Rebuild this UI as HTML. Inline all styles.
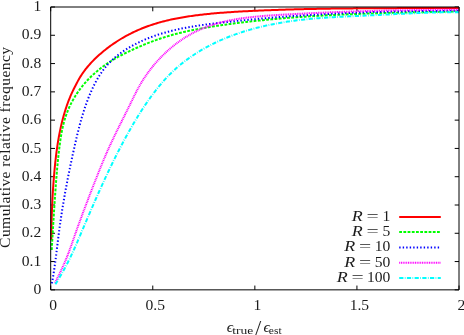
<!DOCTYPE html>
<html><head><meta charset="utf-8"><title>Chart</title>
<style>html,body{margin:0;padding:0;background:#fff;overflow:hidden}svg{display:block;will-change:transform}</style>
</head><body>
<svg width="464" height="335" viewBox="0 0 464 335">
<rect width="464" height="335" fill="#fff"/>
<path d="M50.70 289.85 h4.3 M459.00 289.85 h-4.3 M50.70 261.56 h4.3 M459.00 261.56 h-4.3 M50.70 233.28 h4.3 M459.00 233.28 h-4.3 M50.70 205.00 h4.3 M459.00 205.00 h-4.3 M50.70 176.71 h4.3 M459.00 176.71 h-4.3 M50.70 148.43 h4.3 M459.00 148.43 h-4.3 M50.70 120.14 h4.3 M459.00 120.14 h-4.3 M50.70 91.86 h4.3 M459.00 91.86 h-4.3 M50.70 63.57 h4.3 M459.00 63.57 h-4.3 M50.70 35.28 h4.3 M459.00 35.28 h-4.3 M50.70 7.00 h4.3 M459.00 7.00 h-4.3 M50.70 289.85 v-4.3 M50.70 7.00 v4.3 M152.78 289.85 v-4.3 M152.78 7.00 v4.3 M254.85 289.85 v-4.3 M254.85 7.00 v4.3 M356.93 289.85 v-4.3 M356.93 7.00 v4.3 M459.00 289.85 v-4.3 M459.00 7.00 v4.3" fill="none" stroke="#000" stroke-width="1"/>
<path d="M51.30 239.98 L51.31 238.60 L51.33 237.21 L51.34 235.82 L51.36 234.43 L51.38 233.03 L51.40 231.64 L51.42 230.24 L51.44 228.84 L51.47 227.44 L51.50 226.03 L51.53 224.63 L51.56 223.22 L51.60 221.81 L51.63 220.40 L51.67 218.99 L51.71 217.57 L51.75 216.16 L51.80 214.74 L51.85 213.32 L51.90 211.90 L51.95 210.48 L52.00 209.06 L52.06 207.64 L52.12 206.21 L52.18 204.79 L52.24 203.36 L52.31 201.94 L52.38 200.51 L52.45 199.08 L52.53 197.65 L52.60 196.22 L52.68 194.79 L52.76 193.36 L52.85 191.93 L52.94 190.50 L53.03 189.07 L53.12 187.64 L53.22 186.21 L53.32 184.78 L53.42 183.35 L53.53 181.91 L53.63 180.48 L53.75 179.05 L53.86 177.62 L53.98 176.19 L54.10 174.76 L54.22 173.33 L54.35 171.90 L54.48 170.47 L54.61 169.05 L54.75 167.62 L54.89 166.19 L55.03 164.77 L55.18 163.34 L55.33 161.92 L55.49 160.50 L55.65 159.07 L55.81 157.65 L55.98 156.24 L56.15 154.82 L56.33 153.40 L56.52 151.99 L56.70 150.57 L56.90 149.16 L57.10 147.75 L57.30 146.34 L57.51 144.93 L57.73 143.53 L57.95 142.12 L58.18 140.72 L58.42 139.32 L58.66 137.93 L58.91 136.53 L59.17 135.14 L59.44 133.74 L59.71 132.36 L59.99 130.97 L60.28 129.59 L60.57 128.20 L60.88 126.82 L61.19 125.45 L61.51 124.07 L61.84 122.70 L62.18 121.33 L62.52 119.97 L62.88 118.61 L63.24 117.25 L63.62 115.89 L64.00 114.54 L64.40 113.19 L64.80 111.84 L65.22 110.50 L65.64 109.15 L66.08 107.82 L66.53 106.48 L66.98 105.15 L67.45 103.83 L67.93 102.51 L68.43 101.19 L68.93 99.87 L69.45 98.56 L69.98 97.26 L70.53 95.96 L71.09 94.67 L71.67 93.38 L72.26 92.10 L72.87 90.82 L73.50 89.55 L74.14 88.29 L74.79 87.04 L75.44 85.79 L76.08 84.55 L76.71 83.32 L77.32 82.09 L77.95 80.88 L78.61 79.67 L79.30 78.47 L80.01 77.28 L80.74 76.10 L81.50 74.93 L82.28 73.77 L83.08 72.62 L83.91 71.47 L84.75 70.34 L85.62 69.22 L86.51 68.10 L87.41 67.00 L88.33 65.91 L89.28 64.83 L90.24 63.75 L91.21 62.69 L92.20 61.64 L93.21 60.60 L94.23 59.57 L95.27 58.56 L96.32 57.55 L97.38 56.56 L98.45 55.57 L99.54 54.60 L100.63 53.64 L101.74 52.69 L102.86 51.76 L103.98 50.84 L105.11 49.92 L106.25 49.03 L107.40 48.14 L108.56 47.27 L109.72 46.41 L110.88 45.56 L112.05 44.73 L113.23 43.91 L114.41 43.10 L115.60 42.31 L116.79 41.52 L117.99 40.75 L119.20 40.00 L120.41 39.26 L121.62 38.52 L122.84 37.81 L124.07 37.10 L125.30 36.41 L126.53 35.73 L127.77 35.06 L129.02 34.41 L130.27 33.77 L131.52 33.14 L132.78 32.52 L134.05 31.91 L135.31 31.32 L136.59 30.74 L137.86 30.17 L139.15 29.61 L140.43 29.07 L141.72 28.54 L143.02 28.01 L144.32 27.50 L145.62 27.01 L146.93 26.52 L148.24 26.04 L149.55 25.58 L150.87 25.13 L152.19 24.69 L153.52 24.26 L154.85 23.84 L156.18 23.43 L157.52 23.03 L158.86 22.64 L160.20 22.27 L161.55 21.90 L162.90 21.54 L164.25 21.19 L165.61 20.86 L166.97 20.53 L168.33 20.21 L169.69 19.89 L171.06 19.59 L172.43 19.30 L173.81 19.01 L175.19 18.73 L176.57 18.46 L177.95 18.20 L179.33 17.94 L180.72 17.69 L182.11 17.45 L183.50 17.21 L184.90 16.98 L186.29 16.76 L187.69 16.54 L189.09 16.33 L190.49 16.13 L191.90 15.93 L193.31 15.73 L194.72 15.54 L196.13 15.36 L197.54 15.18 L198.95 15.00 L200.37 14.83 L201.79 14.67 L203.20 14.50 L204.62 14.34 L206.05 14.19 L207.47 14.04 L208.89 13.90 L210.32 13.75 L211.75 13.62 L213.17 13.48 L214.60 13.35 L216.03 13.22 L217.46 13.10 L218.89 12.98 L220.33 12.86 L221.76 12.75 L223.19 12.64 L224.63 12.53 L226.06 12.43 L227.50 12.33 L228.93 12.23 L230.37 12.13 L231.81 12.04 L233.24 11.94 L234.68 11.85 L236.12 11.77 L237.55 11.68 L238.99 11.60 L240.43 11.52 L241.86 11.44 L243.30 11.36 L244.74 11.29 L246.17 11.22 L247.61 11.14 L249.04 11.07 L250.48 11.00 L251.91 10.94 L253.34 10.87 L254.78 10.80 L256.21 10.74 L257.64 10.68 L259.07 10.61 L260.50 10.55 L261.93 10.49 L263.36 10.43 L264.79 10.37 L266.22 10.32 L267.64 10.26 L269.07 10.21 L270.50 10.15 L271.92 10.10 L273.35 10.05 L274.77 9.99 L276.20 9.94 L277.62 9.89 L279.04 9.85 L280.46 9.80 L281.89 9.75 L283.31 9.71 L284.73 9.66 L286.15 9.62 L287.57 9.57 L288.99 9.53 L290.41 9.49 L291.83 9.45 L293.25 9.41 L294.66 9.37 L296.08 9.33 L297.50 9.30 L298.92 9.26 L300.33 9.23 L301.75 9.19 L303.16 9.16 L304.58 9.12 L305.99 9.09 L307.41 9.06 L308.82 9.03 L310.24 9.00 L311.65 8.97 L313.07 8.94 L314.48 8.91 L315.89 8.88 L317.31 8.86 L318.72 8.83 L320.13 8.81 L321.54 8.78 L322.95 8.76 L324.37 8.73 L325.78 8.71 L327.19 8.69 L328.60 8.67 L330.01 8.64 L331.42 8.62 L332.83 8.60 L334.24 8.58 L335.66 8.56 L337.07 8.55 L338.48 8.53 L339.89 8.51 L341.30 8.49 L342.71 8.48 L344.12 8.46 L345.53 8.45 L346.94 8.43 L348.35 8.42 L349.76 8.40 L351.17 8.39 L352.58 8.38 L353.99 8.36 L355.40 8.35 L356.81 8.34 L358.22 8.33 L359.63 8.32 L361.04 8.31 L362.45 8.29 L363.86 8.28 L365.27 8.27 L366.68 8.27 L368.09 8.26 L369.50 8.25 L370.91 8.24 L372.32 8.23 L373.73 8.22 L375.14 8.22 L376.55 8.21 L377.97 8.20 L379.38 8.19 L380.79 8.19 L382.20 8.18 L383.61 8.17 L385.03 8.17 L386.44 8.16 L387.85 8.16 L389.26 8.15 L390.68 8.15 L392.09 8.14 L393.51 8.14 L394.92 8.13 L396.33 8.13 L397.75 8.12 L399.16 8.12 L400.58 8.11 L402.00 8.11 L403.41 8.10 L404.83 8.10 L406.25 8.10 L407.66 8.09 L409.08 8.09 L410.50 8.08 L411.92 8.08 L413.34 8.08 L414.76 8.07 L416.17 8.07 L417.59 8.06 L419.02 8.06 L420.44 8.06 L421.86 8.05 L423.28 8.05 L424.70 8.04 L426.13 8.04 L427.55 8.04 L428.97 8.03 L430.40 8.03 L431.82 8.02 L433.25 8.02 L434.67 8.01 L436.10 8.01 L437.53 8.00 L438.96 8.00 L440.38 7.99 L441.81 7.99 L443.24 7.98 L444.67 7.97 L446.10 7.97 L447.54 7.96 L448.97 7.95 L450.40 7.95 L451.84 7.94 L453.27 7.93 L454.70 7.92 L456.14 7.92 L457.58 7.91 L459.01 7.90" fill="none" stroke="#ff0000" stroke-width="2.00"/>
<path d="M399.2 216.90 H440.8" fill="none" stroke="#ff0000" stroke-width="2.00"/>
<path d="M51.70 250.00 L51.79 248.57 L51.87 247.14 L51.95 245.71 L52.04 244.29 L52.12 242.86 L52.20 241.44 L52.28 240.03 L52.37 238.61 L52.45 237.20 L52.53 235.79 L52.62 234.38 L52.70 232.97 L52.78 231.56 L52.87 230.16 L52.95 228.76 L53.03 227.36 L53.12 225.96 L53.20 224.56 L53.29 223.16 L53.37 221.76 L53.46 220.37 L53.55 218.97 L53.63 217.58 L53.72 216.18 L53.81 214.79 L53.89 213.39 L53.98 212.00 L54.07 210.60 L54.16 209.21 L54.25 207.82 L54.34 206.42 L54.44 205.03 L54.53 203.63 L54.62 202.23 L54.71 200.84 L54.81 199.44 L54.90 198.04 L55.00 196.64 L55.10 195.24 L55.20 193.83 L55.29 192.43 L55.39 191.02 L55.50 189.61 L55.60 188.20 L55.70 186.79 L55.80 185.38 L55.91 183.96 L56.02 182.55 L56.12 181.13 L56.23 179.71 L56.34 178.29 L56.46 176.87 L56.57 175.45 L56.69 174.03 L56.81 172.61 L56.93 171.18 L57.05 169.76 L57.18 168.34 L57.31 166.92 L57.44 165.49 L57.57 164.07 L57.71 162.65 L57.85 161.23 L57.99 159.81 L58.14 158.39 L58.29 156.97 L58.44 155.55 L58.59 154.13 L58.75 152.72 L58.92 151.31 L59.08 149.90 L59.25 148.49 L59.43 147.08 L59.61 145.67 L59.79 144.27 L59.98 142.87 L60.17 141.47 L60.37 140.07 L60.58 138.68 L60.80 137.29 L61.03 135.90 L61.26 134.52 L61.51 133.13 L61.76 131.76 L62.03 130.38 L62.32 129.01 L62.61 127.65 L62.92 126.28 L63.24 124.92 L63.58 123.57 L63.94 122.22 L64.31 120.87 L64.70 119.53 L65.11 118.20 L65.53 116.86 L65.98 115.54 L66.45 114.22 L66.94 112.90 L67.44 111.59 L67.97 110.29 L68.52 108.99 L69.09 107.70 L69.68 106.42 L70.28 105.14 L70.91 103.87 L71.55 102.61 L72.21 101.36 L72.89 100.12 L73.59 98.89 L74.30 97.67 L75.04 96.46 L75.78 95.26 L76.55 94.08 L77.33 92.90 L78.13 91.74 L78.95 90.58 L79.78 89.44 L80.62 88.32 L81.48 87.21 L82.36 86.11 L83.25 85.02 L84.15 83.95 L85.07 82.89 L86.01 81.84 L86.95 80.80 L87.91 79.78 L88.89 78.77 L89.87 77.78 L90.87 76.79 L91.88 75.82 L92.91 74.86 L93.94 73.91 L94.99 72.98 L96.05 72.06 L97.12 71.15 L98.20 70.25 L99.29 69.36 L100.39 68.49 L101.50 67.62 L102.62 66.77 L103.75 65.94 L104.89 65.11 L106.04 64.31 L107.20 63.51 L108.36 62.73 L109.54 61.97 L110.72 61.22 L111.91 60.48 L113.11 59.76 L114.31 59.05 L115.52 58.35 L116.74 57.67 L117.96 56.99 L119.19 56.33 L120.42 55.67 L121.66 55.02 L122.90 54.38 L124.15 53.75 L125.41 53.12 L126.66 52.50 L127.92 51.89 L129.19 51.28 L130.46 50.68 L131.73 50.08 L133.01 49.49 L134.29 48.90 L135.57 48.32 L136.85 47.75 L138.14 47.18 L139.43 46.61 L140.73 46.06 L142.03 45.51 L143.33 44.96 L144.63 44.43 L145.94 43.90 L147.25 43.37 L148.57 42.86 L149.88 42.35 L151.20 41.84 L152.52 41.35 L153.85 40.86 L155.17 40.38 L156.50 39.90 L157.84 39.44 L159.17 38.98 L160.51 38.53 L161.85 38.08 L163.19 37.65 L164.54 37.22 L165.88 36.80 L167.23 36.39 L168.58 35.99 L169.93 35.59 L171.29 35.20 L172.65 34.82 L174.01 34.45 L175.37 34.09 L176.73 33.73 L178.10 33.38 L179.46 33.04 L180.83 32.70 L182.20 32.37 L183.57 32.05 L184.95 31.73 L186.32 31.42 L187.70 31.11 L189.08 30.82 L190.45 30.52 L191.84 30.24 L193.22 29.95 L194.60 29.68 L195.99 29.41 L197.37 29.14 L198.76 28.88 L200.15 28.62 L201.53 28.37 L202.92 28.12 L204.31 27.88 L205.71 27.64 L207.10 27.41 L208.49 27.18 L209.89 26.95 L211.28 26.73 L212.68 26.51 L214.07 26.29 L215.47 26.08 L216.86 25.87 L218.26 25.66 L219.66 25.45 L221.06 25.25 L222.46 25.05 L223.86 24.85 L225.25 24.66 L226.65 24.46 L228.05 24.27 L229.45 24.08 L230.85 23.90 L232.25 23.71 L233.65 23.53 L235.05 23.35 L236.45 23.17 L237.85 22.99 L239.25 22.82 L240.65 22.65 L242.06 22.48 L243.46 22.31 L244.86 22.14 L246.26 21.98 L247.66 21.81 L249.06 21.65 L250.47 21.49 L251.87 21.34 L253.27 21.18 L254.67 21.03 L256.08 20.88 L257.48 20.73 L258.88 20.58 L260.29 20.43 L261.69 20.29 L263.09 20.14 L264.50 20.00 L265.90 19.87 L267.31 19.73 L268.71 19.59 L270.11 19.46 L271.52 19.33 L272.92 19.20 L274.33 19.07 L275.73 18.94 L277.14 18.81 L278.54 18.69 L279.95 18.57 L281.36 18.45 L282.76 18.33 L284.17 18.21 L285.57 18.10 L286.98 17.98 L288.39 17.87 L289.79 17.76 L291.20 17.65 L292.61 17.54 L294.01 17.43 L295.42 17.33 L296.83 17.22 L298.23 17.12 L299.64 17.02 L301.05 16.92 L302.46 16.82 L303.86 16.73 L305.27 16.63 L306.68 16.54 L308.09 16.44 L309.49 16.35 L310.90 16.26 L312.31 16.17 L313.72 16.09 L315.13 16.00 L316.54 15.92 L317.95 15.83 L319.35 15.75 L320.76 15.67 L322.17 15.59 L323.58 15.51 L324.99 15.43 L326.40 15.36 L327.81 15.28 L329.22 15.21 L330.63 15.13 L332.04 15.06 L333.45 14.99 L334.86 14.92 L336.27 14.85 L337.67 14.79 L339.08 14.72 L340.49 14.65 L341.90 14.59 L343.31 14.53 L344.72 14.46 L346.13 14.40 L347.55 14.34 L348.96 14.28 L350.37 14.22 L351.78 14.17 L353.19 14.11 L354.60 14.05 L356.01 14.00 L357.42 13.95 L358.83 13.89 L360.24 13.84 L361.65 13.79 L363.06 13.74 L364.47 13.69 L365.88 13.64 L367.29 13.59 L368.70 13.54 L370.12 13.50 L371.53 13.45 L372.94 13.41 L374.35 13.36 L375.76 13.32 L377.17 13.28 L378.58 13.23 L379.99 13.19 L381.40 13.15 L382.81 13.11 L384.23 13.07 L385.64 13.03 L387.05 12.99 L388.46 12.95 L389.87 12.92 L391.28 12.88 L392.69 12.84 L394.10 12.81 L395.52 12.77 L396.93 12.74 L398.34 12.70 L399.75 12.67 L401.16 12.64 L402.57 12.60 L403.98 12.57 L405.39 12.54 L406.81 12.51 L408.22 12.47 L409.63 12.44 L411.04 12.41 L412.45 12.38 L413.86 12.35 L415.27 12.32 L416.68 12.29 L418.10 12.26 L419.51 12.24 L420.92 12.21 L422.33 12.18 L423.74 12.15 L425.15 12.12 L426.56 12.10 L427.97 12.07 L429.38 12.04 L430.79 12.01 L432.20 11.99 L433.62 11.96 L435.03 11.94 L436.44 11.91 L437.85 11.88 L439.26 11.86 L440.67 11.83 L442.08 11.80 L443.49 11.78 L444.90 11.75 L446.31 11.73 L447.72 11.70 L449.13 11.67 L450.54 11.65 L451.95 11.62 L453.36 11.60 L454.77 11.57 L456.18 11.54 L457.59 11.52 L459.00 11.49" fill="none" stroke="#00ff00" stroke-width="2.00" stroke-dasharray="2.80,1.40"/>
<path d="M399.2 232.10 H440.8" fill="none" stroke="#00ff00" stroke-width="2.00" stroke-dasharray="2.80,1.40"/>
<path d="M51.91 283.40 L52.17 281.95 L52.43 280.50 L52.69 279.05 L52.94 277.59 L53.18 276.13 L53.41 274.68 L53.64 273.22 L53.87 271.75 L54.09 270.29 L54.30 268.83 L54.52 267.36 L54.72 265.89 L54.93 264.43 L55.13 262.96 L55.32 261.49 L55.52 260.02 L55.71 258.55 L55.90 257.08 L56.08 255.60 L56.27 254.13 L56.45 252.66 L56.63 251.18 L56.81 249.71 L56.99 248.24 L57.17 246.77 L57.35 245.29 L57.53 243.82 L57.71 242.35 L57.89 240.87 L58.07 239.40 L58.25 237.93 L58.44 236.46 L58.62 234.99 L58.81 233.52 L59.00 232.05 L59.19 230.59 L59.39 229.12 L59.58 227.66 L59.79 226.19 L59.99 224.73 L60.19 223.27 L60.40 221.81 L60.62 220.35 L60.83 218.89 L61.05 217.43 L61.27 215.97 L61.49 214.52 L61.71 213.06 L61.94 211.60 L62.17 210.15 L62.40 208.70 L62.64 207.24 L62.87 205.79 L63.11 204.34 L63.36 202.89 L63.60 201.44 L63.85 199.99 L64.10 198.54 L64.35 197.09 L64.61 195.64 L64.86 194.19 L65.12 192.74 L65.38 191.29 L65.65 189.85 L65.91 188.40 L66.18 186.95 L66.45 185.51 L66.73 184.06 L67.00 182.62 L67.28 181.17 L67.56 179.72 L67.84 178.28 L68.12 176.83 L68.41 175.39 L68.70 173.94 L68.99 172.50 L69.28 171.05 L69.57 169.61 L69.87 168.16 L70.17 166.72 L70.47 165.27 L70.77 163.83 L71.08 162.38 L71.38 160.93 L71.69 159.49 L72.00 158.04 L72.31 156.60 L72.63 155.15 L72.94 153.70 L73.26 152.25 L73.58 150.81 L73.90 149.36 L74.23 147.91 L74.55 146.46 L74.88 145.01 L75.21 143.56 L75.54 142.11 L75.87 140.66 L76.21 139.21 L76.55 137.76 L76.89 136.31 L77.24 134.86 L77.59 133.42 L77.95 131.97 L78.31 130.52 L78.67 129.08 L79.04 127.64 L79.42 126.19 L79.80 124.75 L80.19 123.32 L80.58 121.88 L80.98 120.45 L81.38 119.01 L81.80 117.58 L82.22 116.16 L82.64 114.73 L83.08 113.31 L83.52 111.89 L83.97 110.47 L84.43 109.06 L84.90 107.65 L85.38 106.24 L85.86 104.84 L86.36 103.44 L86.87 102.05 L87.38 100.66 L87.91 99.27 L88.44 97.89 L88.99 96.51 L89.55 95.14 L90.12 93.77 L90.70 92.41 L91.30 91.05 L91.90 89.70 L92.52 88.35 L93.15 87.01 L93.80 85.68 L94.46 84.36 L95.14 83.05 L95.83 81.75 L96.54 80.46 L97.26 79.18 L98.00 77.91 L98.76 76.65 L99.53 75.41 L100.33 74.18 L101.14 72.97 L101.97 71.77 L102.83 70.58 L103.70 69.41 L104.59 68.26 L105.50 67.12 L106.44 66.01 L107.40 64.91 L108.38 63.83 L109.38 62.77 L110.41 61.73 L111.45 60.71 L112.52 59.70 L113.61 58.72 L114.71 57.76 L115.84 56.81 L116.98 55.88 L118.13 54.97 L119.30 54.08 L120.49 53.21 L121.69 52.35 L122.90 51.51 L124.12 50.69 L125.35 49.88 L126.59 49.09 L127.84 48.32 L129.10 47.57 L130.37 46.82 L131.64 46.10 L132.92 45.39 L134.21 44.70 L135.50 44.02 L136.80 43.35 L138.11 42.70 L139.42 42.07 L140.75 41.45 L142.07 40.84 L143.40 40.25 L144.74 39.67 L146.09 39.10 L147.44 38.55 L148.80 38.00 L150.16 37.48 L151.53 36.96 L152.90 36.46 L154.28 35.97 L155.66 35.49 L157.05 35.02 L158.44 34.56 L159.84 34.12 L161.24 33.68 L162.65 33.26 L164.06 32.85 L165.48 32.45 L166.90 32.05 L168.32 31.67 L169.75 31.30 L171.18 30.93 L172.62 30.58 L174.06 30.23 L175.50 29.90 L176.94 29.57 L178.39 29.25 L179.84 28.94 L181.30 28.63 L182.76 28.34 L184.22 28.05 L185.68 27.77 L187.15 27.49 L188.62 27.23 L190.09 26.97 L191.56 26.71 L193.03 26.46 L194.51 26.22 L195.99 25.99 L197.47 25.76 L198.95 25.53 L200.43 25.31 L201.92 25.10 L203.40 24.88 L204.89 24.68 L206.38 24.48 L207.86 24.28 L209.35 24.09 L210.84 23.89 L212.33 23.71 L213.82 23.52 L215.31 23.34 L216.80 23.17 L218.29 22.99 L219.79 22.82 L221.28 22.65 L222.77 22.48 L224.26 22.31 L225.74 22.14 L227.23 21.98 L228.72 21.82 L230.21 21.65 L231.69 21.49 L233.18 21.34 L234.67 21.18 L236.15 21.02 L237.64 20.87 L239.12 20.72 L240.60 20.56 L242.09 20.41 L243.57 20.27 L245.05 20.12 L246.53 19.97 L248.02 19.83 L249.50 19.69 L250.98 19.55 L252.46 19.41 L253.94 19.27 L255.42 19.13 L256.90 18.99 L258.37 18.86 L259.85 18.73 L261.33 18.59 L262.81 18.46 L264.28 18.34 L265.76 18.21 L267.24 18.08 L268.71 17.96 L270.19 17.83 L271.66 17.71 L273.14 17.59 L274.61 17.47 L276.09 17.35 L277.56 17.23 L279.04 17.12 L280.51 17.00 L281.98 16.89 L283.46 16.78 L284.93 16.67 L286.40 16.56 L287.87 16.45 L289.34 16.34 L290.82 16.24 L292.29 16.13 L293.76 16.03 L295.23 15.93 L296.70 15.83 L298.17 15.73 L299.64 15.63 L301.11 15.53 L302.58 15.43 L304.05 15.34 L305.52 15.25 L306.99 15.15 L308.46 15.06 L309.93 14.97 L311.40 14.88 L312.87 14.79 L314.34 14.71 L315.81 14.62 L317.28 14.54 L318.74 14.45 L320.21 14.37 L321.68 14.29 L323.15 14.21 L324.62 14.13 L326.09 14.05 L327.56 13.98 L329.02 13.90 L330.49 13.83 L331.96 13.75 L333.43 13.68 L334.90 13.61 L336.37 13.54 L337.83 13.47 L339.30 13.40 L340.77 13.34 L342.24 13.27 L343.71 13.21 L345.18 13.14 L346.64 13.08 L348.11 13.02 L349.58 12.96 L351.05 12.90 L352.52 12.84 L353.99 12.78 L355.46 12.72 L356.93 12.66 L358.40 12.61 L359.87 12.56 L361.34 12.50 L362.81 12.45 L364.27 12.40 L365.74 12.35 L367.22 12.30 L368.69 12.25 L370.16 12.20 L371.63 12.16 L373.10 12.11 L374.57 12.07 L376.04 12.02 L377.51 11.98 L378.98 11.94 L380.46 11.90 L381.93 11.85 L383.40 11.82 L384.87 11.78 L386.35 11.74 L387.82 11.70 L389.29 11.67 L390.77 11.63 L392.24 11.60 L393.72 11.56 L395.19 11.53 L396.67 11.50 L398.14 11.47 L399.62 11.44 L401.09 11.41 L402.57 11.38 L404.05 11.35 L405.53 11.32 L407.00 11.30 L408.48 11.27 L409.96 11.24 L411.44 11.22 L412.92 11.20 L414.40 11.17 L415.88 11.15 L417.36 11.13 L418.84 11.11 L420.32 11.09 L421.80 11.07 L423.28 11.05 L424.77 11.04 L426.25 11.02 L427.73 11.00 L429.22 10.99 L430.70 10.97 L432.19 10.96 L433.67 10.94 L435.16 10.93 L436.65 10.92 L438.13 10.91 L439.62 10.90 L441.11 10.89 L442.60 10.88 L444.09 10.87 L445.58 10.86 L447.07 10.85 L448.56 10.84 L450.05 10.84 L451.54 10.83 L453.04 10.82 L454.53 10.82 L456.02 10.82 L457.52 10.81 L459.02 10.81" fill="none" stroke="#0000ff" stroke-width="2.00" stroke-dasharray="1.40,2.10"/>
<path d="M399.2 247.40 H440.8" fill="none" stroke="#0000ff" stroke-width="2.00" stroke-dasharray="1.40,2.10"/>
<path d="M54.99 282.80 L55.64 281.55 L56.28 280.30 L56.91 279.04 L57.54 277.78 L58.17 276.51 L58.79 275.25 L59.40 273.98 L60.01 272.71 L60.62 271.43 L61.22 270.16 L61.81 268.88 L62.40 267.60 L62.98 266.32 L63.55 265.03 L64.11 263.75 L64.67 262.46 L65.22 261.17 L65.76 259.88 L66.29 258.58 L66.82 257.29 L67.33 255.99 L67.84 254.69 L68.34 253.39 L68.84 252.09 L69.33 250.79 L69.81 249.48 L70.28 248.18 L70.76 246.87 L71.22 245.56 L71.69 244.25 L72.15 242.94 L72.61 241.63 L73.07 240.32 L73.53 239.00 L73.98 237.69 L74.44 236.38 L74.90 235.06 L75.36 233.74 L75.82 232.43 L76.28 231.11 L76.74 229.79 L77.21 228.47 L77.68 227.15 L78.16 225.84 L78.63 224.52 L79.11 223.20 L79.59 221.88 L80.07 220.56 L80.56 219.24 L81.05 217.92 L81.53 216.60 L82.03 215.28 L82.52 213.96 L83.01 212.64 L83.51 211.32 L84.00 210.01 L84.50 208.69 L85.00 207.37 L85.50 206.06 L86.00 204.74 L86.50 203.42 L87.00 202.11 L87.51 200.80 L88.01 199.48 L88.51 198.17 L89.02 196.86 L89.52 195.55 L90.03 194.24 L90.53 192.94 L91.04 191.63 L91.54 190.32 L92.04 189.02 L92.55 187.72 L93.05 186.42 L93.56 185.12 L94.06 183.82 L94.56 182.52 L95.07 181.22 L95.57 179.93 L96.08 178.63 L96.59 177.34 L97.09 176.05 L97.60 174.76 L98.11 173.47 L98.63 172.18 L99.14 170.89 L99.66 169.60 L100.18 168.31 L100.70 167.02 L101.23 165.73 L101.75 164.45 L102.28 163.16 L102.82 161.87 L103.35 160.58 L103.89 159.30 L104.44 158.01 L104.99 156.73 L105.54 155.44 L106.09 154.15 L106.65 152.86 L107.22 151.58 L107.79 150.29 L108.36 149.00 L108.94 147.71 L109.53 146.42 L110.12 145.14 L110.72 143.85 L111.32 142.56 L111.92 141.27 L112.53 139.98 L113.14 138.69 L113.76 137.40 L114.38 136.11 L115.00 134.82 L115.63 133.53 L116.26 132.24 L116.89 130.95 L117.52 129.67 L118.15 128.38 L118.79 127.09 L119.43 125.81 L120.06 124.53 L120.70 123.25 L121.34 121.97 L121.98 120.69 L122.61 119.41 L123.25 118.14 L123.89 116.86 L124.52 115.59 L125.16 114.32 L125.79 113.05 L126.42 111.79 L127.05 110.52 L127.67 109.26 L128.30 108.01 L128.91 106.75 L129.53 105.50 L130.14 104.25 L130.75 103.00 L131.36 101.76 L131.96 100.52 L132.57 99.28 L133.17 98.04 L133.78 96.81 L134.38 95.59 L135.00 94.36 L135.61 93.14 L136.23 91.93 L136.86 90.71 L137.50 89.51 L138.14 88.30 L138.80 87.10 L139.46 85.91 L140.14 84.72 L140.83 83.53 L141.54 82.35 L142.26 81.17 L142.99 80.00 L143.73 78.83 L144.49 77.67 L145.26 76.52 L146.05 75.37 L146.84 74.23 L147.65 73.09 L148.47 71.96 L149.31 70.84 L150.16 69.72 L151.01 68.61 L151.89 67.51 L152.77 66.42 L153.66 65.33 L154.57 64.25 L155.49 63.18 L156.42 62.12 L157.36 61.07 L158.31 60.03 L159.27 58.99 L160.24 57.97 L161.22 56.95 L162.22 55.94 L163.22 54.95 L164.24 53.96 L165.26 52.99 L166.30 52.02 L167.34 51.07 L168.39 50.13 L169.46 49.19 L170.53 48.27 L171.61 47.37 L172.70 46.47 L173.80 45.58 L174.91 44.71 L176.03 43.85 L177.15 43.00 L178.29 42.17 L179.43 41.35 L180.58 40.54 L181.74 39.75 L182.91 38.97 L184.08 38.20 L185.26 37.45 L186.45 36.71 L187.65 35.99 L188.85 35.28 L190.06 34.58 L191.28 33.91 L192.51 33.24 L193.74 32.60 L194.98 31.97 L196.22 31.35 L197.47 30.75 L198.73 30.17 L199.99 29.60 L201.26 29.05 L202.53 28.51 L203.81 27.99 L205.10 27.48 L206.39 26.98 L207.68 26.50 L208.98 26.04 L210.29 25.59 L211.60 25.15 L212.92 24.72 L214.24 24.31 L215.56 23.91 L216.89 23.52 L218.23 23.14 L219.57 22.78 L220.91 22.42 L222.26 22.08 L223.61 21.75 L224.96 21.43 L226.32 21.12 L227.68 20.82 L229.05 20.54 L230.42 20.26 L231.79 19.99 L233.17 19.73 L234.55 19.48 L235.93 19.24 L237.31 19.01 L238.70 18.78 L240.09 18.57 L241.49 18.36 L242.88 18.16 L244.28 17.97 L245.68 17.78 L247.08 17.60 L248.48 17.43 L249.89 17.27 L251.30 17.11 L252.70 16.95 L254.12 16.81 L255.53 16.67 L256.94 16.53 L258.35 16.40 L259.77 16.27 L261.19 16.15 L262.60 16.03 L264.02 15.92 L265.44 15.81 L266.86 15.70 L268.28 15.60 L269.70 15.50 L271.12 15.40 L272.54 15.31 L273.96 15.22 L275.38 15.13 L276.80 15.04 L278.22 14.96 L279.64 14.87 L281.05 14.79 L282.47 14.70 L283.89 14.62 L285.30 14.54 L286.72 14.46 L288.13 14.38 L289.54 14.30 L290.96 14.23 L292.37 14.15 L293.78 14.07 L295.19 14.00 L296.60 13.92 L298.01 13.85 L299.42 13.77 L300.83 13.70 L302.23 13.63 L303.64 13.55 L305.05 13.48 L306.45 13.41 L307.86 13.34 L309.26 13.28 L310.66 13.21 L312.07 13.14 L313.47 13.07 L314.87 13.01 L316.27 12.94 L317.68 12.88 L319.08 12.82 L320.48 12.75 L321.88 12.69 L323.28 12.63 L324.68 12.57 L326.07 12.51 L327.47 12.45 L328.87 12.39 L330.27 12.33 L331.66 12.27 L333.06 12.22 L334.46 12.16 L335.85 12.11 L337.25 12.05 L338.64 12.00 L340.04 11.94 L341.43 11.89 L342.83 11.84 L344.22 11.79 L345.62 11.74 L347.01 11.69 L348.41 11.64 L349.80 11.59 L351.19 11.54 L352.59 11.50 L353.98 11.45 L355.37 11.40 L356.77 11.36 L358.16 11.31 L359.55 11.27 L360.94 11.23 L362.34 11.19 L363.73 11.14 L365.12 11.10 L366.51 11.06 L367.91 11.02 L369.30 10.98 L370.69 10.94 L372.08 10.91 L373.48 10.87 L374.87 10.83 L376.26 10.80 L377.65 10.76 L379.05 10.73 L380.44 10.69 L381.83 10.66 L383.23 10.63 L384.62 10.60 L386.01 10.57 L387.41 10.54 L388.80 10.51 L390.19 10.48 L391.59 10.45 L392.98 10.42 L394.38 10.39 L395.77 10.37 L397.17 10.34 L398.56 10.31 L399.96 10.29 L401.35 10.27 L402.75 10.24 L404.15 10.22 L405.54 10.20 L406.94 10.17 L408.34 10.15 L409.74 10.13 L411.13 10.11 L412.53 10.09 L413.93 10.08 L415.33 10.06 L416.73 10.04 L418.13 10.02 L419.53 10.01 L420.94 9.99 L422.34 9.98 L423.74 9.96 L425.14 9.95 L426.55 9.94 L427.95 9.92 L429.36 9.91 L430.76 9.90 L432.17 9.89 L433.57 9.88 L434.98 9.87 L436.39 9.86 L437.80 9.85 L439.21 9.85 L440.62 9.84 L442.03 9.83 L443.44 9.83 L444.85 9.82 L446.26 9.82 L447.68 9.81 L449.09 9.81 L450.50 9.81 L451.92 9.81 L453.34 9.80 L454.75 9.80 L456.17 9.80 L457.59 9.80 L459.01 9.80" fill="none" stroke="#ff00ff" stroke-width="2.00" stroke-dasharray="1.00,0.75"/>
<path d="M399.2 262.80 H440.8" fill="none" stroke="#ff00ff" stroke-width="2.00" stroke-dasharray="1.00,0.75"/>
<path d="M55.40 284.30 L56.12 283.14 L56.84 281.98 L57.55 280.81 L58.25 279.64 L58.96 278.46 L59.65 277.29 L60.34 276.11 L61.03 274.92 L61.70 273.74 L62.38 272.55 L63.04 271.36 L63.71 270.16 L64.36 268.97 L65.01 267.77 L65.65 266.57 L66.29 265.36 L66.92 264.15 L67.54 262.94 L68.16 261.73 L68.77 260.52 L69.38 259.30 L69.98 258.08 L70.57 256.86 L71.15 255.64 L71.73 254.42 L72.31 253.19 L72.87 251.96 L73.44 250.73 L74.00 249.50 L74.55 248.27 L75.10 247.03 L75.65 245.79 L76.19 244.56 L76.73 243.32 L77.27 242.08 L77.81 240.83 L78.34 239.59 L78.87 238.35 L79.40 237.10 L79.93 235.85 L80.46 234.61 L80.99 233.36 L81.52 232.11 L82.05 230.86 L82.59 229.61 L83.12 228.36 L83.65 227.10 L84.18 225.85 L84.72 224.60 L85.25 223.34 L85.79 222.09 L86.32 220.83 L86.86 219.58 L87.40 218.32 L87.94 217.07 L88.48 215.81 L89.02 214.56 L89.56 213.30 L90.10 212.05 L90.64 210.79 L91.19 209.54 L91.73 208.28 L92.28 207.03 L92.83 205.78 L93.37 204.52 L93.92 203.27 L94.47 202.02 L95.02 200.77 L95.58 199.52 L96.13 198.26 L96.68 197.02 L97.24 195.77 L97.79 194.52 L98.35 193.27 L98.91 192.03 L99.47 190.78 L100.03 189.54 L100.59 188.30 L101.15 187.06 L101.71 185.82 L102.28 184.58 L102.85 183.34 L103.41 182.11 L103.98 180.88 L104.55 179.64 L105.12 178.41 L105.70 177.18 L106.27 175.95 L106.85 174.72 L107.42 173.50 L108.00 172.27 L108.58 171.05 L109.17 169.82 L109.75 168.60 L110.34 167.38 L110.93 166.16 L111.52 164.95 L112.11 163.73 L112.71 162.51 L113.30 161.30 L113.90 160.09 L114.50 158.88 L115.11 157.67 L115.71 156.46 L116.32 155.25 L116.93 154.04 L117.54 152.84 L118.16 151.63 L118.78 150.43 L119.40 149.23 L120.02 148.03 L120.65 146.83 L121.27 145.63 L121.91 144.44 L122.54 143.24 L123.18 142.05 L123.82 140.85 L124.46 139.66 L125.11 138.47 L125.76 137.28 L126.41 136.10 L127.06 134.91 L127.72 133.72 L128.38 132.54 L129.05 131.36 L129.72 130.17 L130.39 128.99 L131.06 127.81 L131.74 126.64 L132.43 125.46 L133.11 124.28 L133.80 123.11 L134.50 121.94 L135.19 120.77 L135.89 119.60 L136.60 118.43 L137.31 117.26 L138.02 116.10 L138.74 114.94 L139.47 113.78 L140.20 112.63 L140.93 111.47 L141.67 110.32 L142.41 109.17 L143.16 108.03 L143.91 106.89 L144.67 105.75 L145.44 104.61 L146.21 103.48 L146.98 102.35 L147.76 101.22 L148.55 100.10 L149.34 98.98 L150.14 97.87 L150.95 96.76 L151.76 95.65 L152.58 94.55 L153.41 93.45 L154.24 92.36 L155.08 91.27 L155.92 90.18 L156.77 89.11 L157.63 88.03 L158.50 86.96 L159.37 85.90 L160.26 84.84 L161.15 83.78 L162.04 82.74 L162.95 81.69 L163.86 80.66 L164.78 79.63 L165.71 78.62 L166.64 77.61 L167.59 76.61 L168.54 75.63 L169.50 74.65 L170.47 73.69 L171.45 72.73 L172.43 71.79 L173.42 70.86 L174.42 69.93 L175.43 69.02 L176.44 68.11 L177.46 67.22 L178.49 66.34 L179.53 65.46 L180.57 64.60 L181.62 63.74 L182.68 62.90 L183.74 62.06 L184.81 61.24 L185.89 60.42 L186.97 59.62 L188.06 58.82 L189.16 58.03 L190.26 57.25 L191.37 56.48 L192.48 55.73 L193.60 54.98 L194.73 54.23 L195.86 53.50 L197.00 52.78 L198.15 52.07 L199.30 51.36 L200.45 50.66 L201.61 49.98 L202.78 49.30 L203.95 48.63 L205.13 47.97 L206.31 47.32 L207.50 46.67 L208.69 46.04 L209.89 45.41 L211.10 44.80 L212.30 44.19 L213.52 43.59 L214.73 42.99 L215.95 42.41 L217.18 41.83 L218.41 41.26 L219.64 40.70 L220.88 40.15 L222.13 39.61 L223.37 39.07 L224.62 38.55 L225.88 38.03 L227.14 37.52 L228.40 37.01 L229.67 36.51 L230.94 36.03 L232.21 35.55 L233.49 35.07 L234.77 34.61 L236.05 34.15 L237.34 33.70 L238.63 33.25 L239.92 32.82 L241.21 32.39 L242.51 31.97 L243.81 31.55 L245.12 31.15 L246.42 30.75 L247.73 30.35 L249.04 29.97 L250.36 29.59 L251.67 29.22 L252.99 28.85 L254.31 28.49 L255.64 28.14 L256.96 27.80 L258.29 27.46 L259.61 27.13 L260.94 26.80 L262.28 26.48 L263.61 26.17 L264.94 25.86 L266.28 25.56 L267.62 25.27 L268.96 24.98 L270.30 24.70 L271.64 24.43 L272.98 24.16 L274.32 23.90 L275.67 23.64 L277.01 23.39 L278.36 23.15 L279.70 22.91 L281.05 22.68 L282.39 22.45 L283.74 22.23 L285.09 22.01 L286.44 21.80 L287.78 21.60 L289.13 21.40 L290.48 21.21 L291.83 21.02 L293.18 20.83 L294.53 20.65 L295.88 20.48 L297.23 20.31 L298.58 20.14 L299.93 19.98 L301.29 19.83 L302.64 19.68 L303.99 19.53 L305.34 19.39 L306.70 19.25 L308.05 19.11 L309.40 18.98 L310.76 18.85 L312.11 18.73 L313.46 18.61 L314.82 18.49 L316.17 18.37 L317.53 18.26 L318.88 18.15 L320.24 18.05 L321.59 17.95 L322.95 17.85 L324.31 17.75 L325.66 17.66 L327.02 17.57 L328.38 17.48 L329.74 17.39 L331.09 17.31 L332.45 17.22 L333.81 17.14 L335.17 17.06 L336.52 16.99 L337.88 16.91 L339.24 16.84 L340.60 16.77 L341.96 16.70 L343.32 16.63 L344.68 16.56 L346.04 16.49 L347.40 16.43 L348.76 16.36 L350.12 16.30 L351.48 16.23 L352.84 16.17 L354.20 16.11 L355.56 16.04 L356.92 15.98 L358.28 15.92 L359.64 15.86 L361.00 15.80 L362.36 15.74 L363.73 15.67 L365.09 15.61 L366.45 15.55 L367.81 15.49 L369.17 15.42 L370.53 15.36 L371.89 15.29 L373.26 15.23 L374.62 15.16 L375.98 15.09 L377.34 15.02 L378.71 14.96 L380.07 14.89 L381.43 14.82 L382.79 14.75 L384.15 14.68 L385.52 14.61 L386.88 14.54 L388.24 14.47 L389.60 14.40 L390.97 14.33 L392.33 14.26 L393.69 14.19 L395.05 14.12 L396.42 14.06 L397.78 13.99 L399.14 13.92 L400.50 13.85 L401.87 13.79 L403.23 13.72 L404.59 13.65 L405.95 13.59 L407.31 13.53 L408.68 13.46 L410.04 13.40 L411.40 13.34 L412.76 13.28 L414.12 13.22 L415.49 13.16 L416.85 13.11 L418.21 13.05 L419.57 13.00 L420.93 12.95 L422.29 12.90 L423.66 12.85 L425.02 12.80 L426.38 12.75 L427.74 12.71 L429.10 12.67 L430.46 12.63 L431.82 12.59 L433.18 12.55 L434.54 12.52 L435.90 12.48 L437.26 12.45 L438.62 12.42 L439.98 12.40 L441.34 12.37 L442.70 12.35 L444.06 12.33 L445.42 12.32 L446.78 12.30 L448.14 12.29 L449.49 12.28 L450.85 12.28 L452.21 12.28 L453.57 12.28 L454.93 12.28 L456.28 12.28 L457.64 12.29 L459.00 12.30" fill="none" stroke="#00ffff" stroke-width="2.00" stroke-dasharray="4.20,1.40,0.70,1.40"/>
<path d="M399.2 278.10 H440.8" fill="none" stroke="#00ffff" stroke-width="2.00" stroke-dasharray="4.20,1.40,0.70,1.40"/>
<path d="M50.70 7.00 H459.00 V289.85 H50.70 Z" fill="none" stroke="#000" stroke-width="1"/>
<g font-family="'Liberation Serif', serif" font-size="15.6" fill="#1c1c1c">
<text x="41.2" y="294.05" text-anchor="end">0</text>
<text x="41.2" y="265.76" text-anchor="end">0.1</text>
<text x="41.2" y="237.48" text-anchor="end">0.2</text>
<text x="41.2" y="209.19" text-anchor="end">0.3</text>
<text x="41.2" y="180.91" text-anchor="end">0.4</text>
<text x="41.2" y="152.62" text-anchor="end">0.5</text>
<text x="41.2" y="124.34" text-anchor="end">0.6</text>
<text x="41.2" y="96.06" text-anchor="end">0.7</text>
<text x="41.2" y="67.77" text-anchor="end">0.8</text>
<text x="41.2" y="39.48" text-anchor="end">0.9</text>
<text x="41.2" y="11.20" text-anchor="end">1</text>
<text x="53.20" y="309.5" text-anchor="middle">0</text>
<text x="155.28" y="309.5" text-anchor="middle">0.5</text>
<text x="257.35" y="309.5" text-anchor="middle">1</text>
<text x="359.43" y="309.5" text-anchor="middle">1.5</text>
<text x="461.50" y="309.5" text-anchor="middle">2</text>
<text x="351.80" y="220.70" font-style="italic" textLength="11" lengthAdjust="spacingAndGlyphs">R</text>
<text x="366.50" y="220.70" textLength="12.2" lengthAdjust="spacingAndGlyphs">=</text>
<text x="390.3" y="220.70" text-anchor="end">1</text>
<text x="351.80" y="235.90" font-style="italic" textLength="11" lengthAdjust="spacingAndGlyphs">R</text>
<text x="366.50" y="235.90" textLength="12.2" lengthAdjust="spacingAndGlyphs">=</text>
<text x="390.3" y="235.90" text-anchor="end">5</text>
<text x="344.30" y="251.20" font-style="italic" textLength="11" lengthAdjust="spacingAndGlyphs">R</text>
<text x="359.00" y="251.20" textLength="12.2" lengthAdjust="spacingAndGlyphs">=</text>
<text x="390.3" y="251.20" text-anchor="end">10</text>
<text x="344.30" y="266.60" font-style="italic" textLength="11" lengthAdjust="spacingAndGlyphs">R</text>
<text x="359.00" y="266.60" textLength="12.2" lengthAdjust="spacingAndGlyphs">=</text>
<text x="390.3" y="266.60" text-anchor="end">50</text>
<text x="336.80" y="281.90" font-style="italic" textLength="11" lengthAdjust="spacingAndGlyphs">R</text>
<text x="351.50" y="281.90" textLength="12.2" lengthAdjust="spacingAndGlyphs">=</text>
<text x="390.3" y="281.90" text-anchor="end">100</text>
<text transform="translate(10.4 247.9) rotate(-90)" textLength="201" lengthAdjust="spacing">Cumulative relative frequency</text>
<text x="226.8" y="331.5" font-style="italic">ϵ</text>
<text x="232.3" y="334.3" font-size="11" textLength="21" lengthAdjust="spacingAndGlyphs">true</text>
<text x="255.2" y="335.3" font-size="21.5">/</text>
<text x="263.6" y="331.5" font-style="italic">ϵ</text>
<text x="268.8" y="334.3" font-size="11" textLength="12.8" lengthAdjust="spacingAndGlyphs">est</text>
</g>
</svg>
</body></html>
